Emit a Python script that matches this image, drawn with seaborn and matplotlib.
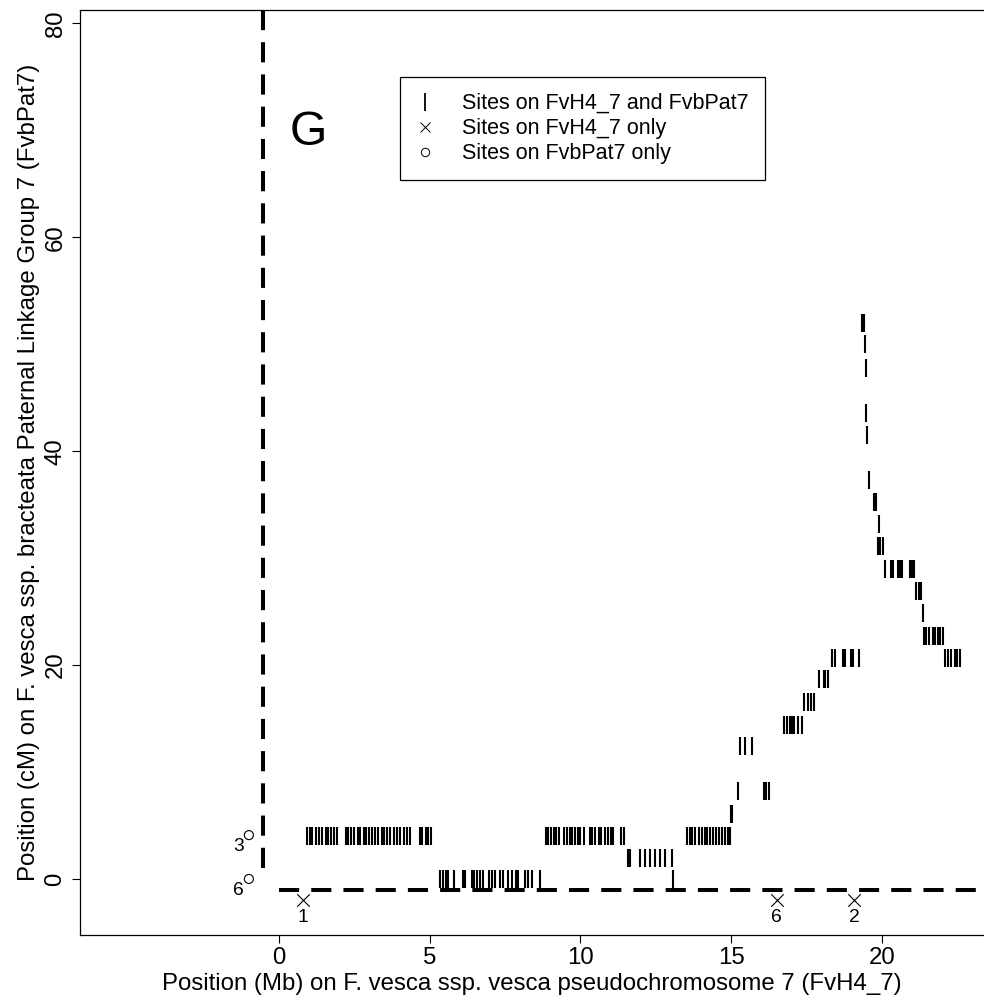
import numpy as np
import pandas as pd
import matplotlib
matplotlib.use("Agg")
import matplotlib.pyplot as plt
from matplotlib.lines import Line2D
import seaborn as sns

# ---------------- data ----------------
# Shared sites (on FvH4_7 and FvbPat7): one cM row per group with its Mb positions
row_cm = [4.0, 0.0, 4.0, 2.0, 0.0, 4.0, 6.1, 8.2, 12.4, 14.4, 16.5, 18.7,
          20.7, 22.7, 24.9, 26.9, 29.0, 31.15, 33.2, 35.2, 37.3, 41.5, 43.6,
          47.8, 50.0, 52.0]
row_mb = [
    [0.92, 1.02, 1.11, 1.22, 1.33, 1.44, 1.55, 1.64, 1.73, 1.81, 1.92,
     2.21, 2.30, 2.39, 2.50, 2.61, 2.70, 2.81, 2.90, 2.99, 3.10, 3.19, 3.30,
     3.41, 3.49, 3.58, 3.69, 3.81, 3.92, 4.03, 4.14, 4.25, 4.34,
     4.67, 4.76, 4.87, 4.95, 5.04],
    [5.34, 5.43, 5.54, 5.62, 5.81, 6.12, 6.18, 6.39, 6.48, 6.56, 6.67, 6.76,
     6.98, 7.07, 7.17, 7.33, 7.44, 7.61, 7.72, 7.86, 7.94, 8.16, 8.27, 8.39,
     8.66],
    [8.85, 8.94, 9.03, 9.12, 9.20, 9.29, 9.47, 9.56, 9.65, 9.73, 9.82, 9.91,
     10.00, 10.13, 10.32, 10.40, 10.49, 10.60, 10.69, 10.82, 10.91, 11.00,
     11.08, 11.35, 11.46],
    [11.57, 11.63, 11.98, 12.14, 12.31, 12.47, 12.64, 12.80, 13.03],
    [13.06],
    [13.53, 13.62, 13.70, 13.80, 13.95, 14.04, 14.12, 14.21, 14.30, 14.41,
     14.50, 14.61, 14.70, 14.81, 14.91, 14.97],
    [14.98, 15.04],
    [15.22, 16.09, 16.17, 16.27],
    [15.30, 15.46, 15.68],
    [16.77, 16.86, 16.94, 17.02, 17.10, 17.22, 17.35],
    [17.43, 17.55, 17.66, 17.75],
    [17.93, 18.07, 18.13, 18.21],
    [18.36, 18.43, 18.71, 18.79, 18.97, 19.05, 19.23,
     22.11, 22.20, 22.29, 22.42, 22.51, 22.60],
    [21.40, 21.47, 21.55, 21.70, 21.78, 21.85, 21.94, 22.02],
    [21.35],
    [21.15, 21.22, 21.30],
    [20.10, 20.30, 20.38, 20.55, 20.60, 20.68, 20.93, 20.99, 21.07],
    [19.88, 19.95, 20.04],
    [19.90],
    [19.74, 19.82],
    [19.56],
    [19.52],
    [19.49],
    [19.49],
    [19.45],
    [19.35, 19.42],
]

# Sites on FvH4_7 only (Mb position, number of sites)
h4_only_mb = [0.79, 16.51, 19.09]
h4_only_count = [1, 6, 2]
h4_only_row_cm = -2.0

# Sites on FvbPat7 only (cM position, number of sites)
pat_only_cm = [4.1, 0.0]
pat_only_count = [3, 6]
pat_only_col_mb = -1.0

# Chromosome / linkage-group boundaries
boundary_mb = -0.53
boundary_cm = -1.0

x_ticks = [0, 5, 10, 15, 20]
y_ticks = [0, 20, 40, 60, 80]
x_lim = (-6.62, 23.39)
y_lim = (-5.24, 81.25)

panel_label = "G"
legend_labels = ["Sites on FvH4_7 and FvbPat7",
                 "Sites on FvH4_7 only",
                 "Sites on FvbPat7 only"]

# ---------------- build tables ----------------
shared = pd.DataFrame({
    "mb": [m for mbs in row_mb for m in mbs],
    "cm": [c for c, mbs in zip(row_cm, row_mb) for _ in mbs],
})
h4_only = pd.DataFrame({"mb": h4_only_mb, "cm": [h4_only_row_cm] * len(h4_only_mb),
                        "n": h4_only_count})
pat_only = pd.DataFrame({"mb": [pat_only_col_mb] * len(pat_only_cm), "cm": pat_only_cm,
                         "n": pat_only_count})

# ---------------- plot ----------------
sns.set_style("ticks")
plt.rcParams["font.family"] = ["Liberation Sans", "DejaVu Sans"]
plt.rcParams["axes.linewidth"] = 0.9
for k in ["text.color", "axes.labelcolor", "xtick.color", "ytick.color",
          "axes.edgecolor"]:
    plt.rcParams[k] = "black"

BASE = 17.3
W, H = 984, 1001
fig = plt.figure(figsize=(W / 100, H / 100), dpi=100)
ax = fig.add_axes([79.5 / W, 66 / H, (W - 79.5) / W, (991 - 66) / H])
ax.set_xlim(*x_lim)
ax.set_ylim(*y_lim)

# boundary dashed lines (vertical drawn from the top down so dashes start at the top)
ax.plot([boundary_mb, boundary_mb], [y_lim[1], 0], color="black", lw=2.9,
        dashes=(5, 3), zorder=1, solid_capstyle="butt")
xmin_frac = (0 - x_lim[0]) / (x_lim[1] - x_lim[0])
ax.axhline(boundary_cm, xmin=xmin_frac, xmax=1, color="black", lw=2.9,
           dashes=(5, 3), zorder=1)
ax.set_xlim(*x_lim)
ax.set_ylim(*y_lim)

sns.scatterplot(data=shared, x="mb", y="cm", marker="|", s=13 ** 2,
                color="black", linewidth=1.5, ax=ax, legend=False, zorder=3)
sns.scatterplot(data=h4_only, x="mb", y="cm", marker="x", s=9 ** 2,
                color="black", linewidth=0.8, ax=ax, legend=False, zorder=3)
sns.scatterplot(data=pat_only, x="mb", y="cm", marker="o", s=6.5 ** 2,
                facecolor="none", edgecolor="black", linewidth=0.8, ax=ax,
                legend=False, zorder=3)

for _, r in h4_only.iterrows():
    ax.annotate(str(int(r["n"])), (r["mb"], r["cm"]), xytext=(0, -12.5),
                textcoords="offset points", ha="center", va="center",
                fontsize=BASE * 0.8)
for _, r in pat_only.iterrows():
    ax.annotate(str(int(r["n"])), (r["mb"], r["cm"]), xytext=(-7.5, -8.2),
                textcoords="offset points", ha="center", va="center",
                fontsize=BASE * 0.8)

ax.text(0.96, 69.75, panel_label, fontsize=BASE * 2, ha="center", va="center")

handles = [
    Line2D([], [], ls="none", marker="|", color="black", ms=12.5, mew=1.3),
    Line2D([], [], ls="none", marker="x", color="black", ms=7.5, mew=0.7),
    Line2D([], [], ls="none", marker="o", mfc="none", mec="black", ms=6, mew=0.7),
]
leg = ax.legend(handles, legend_labels, loc="upper left",
                bbox_to_anchor=(400 / W, 1 - 77 / H), bbox_transform=fig.transFigure,
                frameon=True, fancybox=False, edgecolor="black", framealpha=1,
                fontsize=15.5, borderpad=0.75, handlelength=0.8, handletextpad=1.35,
                labelspacing=0.19, borderaxespad=0)
leg.get_frame().set_linewidth(0.9)

ax.set_xticks(x_ticks)
ax.set_yticks(y_ticks)
ax.tick_params(axis="both", direction="out", length=5.8, width=0.8,
               labelsize=BASE, color="black", labelcolor="black")
ax.tick_params(axis="x", pad=2.5)
ax.tick_params(axis="y", pad=3.5)
for lab in ax.get_yticklabels():
    lab.set_rotation(90)
    lab.set_va("center")

ax.set_xlabel("Position (Mb) on F. vesca ssp. vesca pseudochromosome 7 (FvH4_7)",
              fontsize=BASE, labelpad=3)
ax.set_ylabel("Position (cM) on F. vesca ssp. bracteata Paternal Linkage Group 7 (FvbPat7)",
              fontsize=BASE, labelpad=3)
for sp in ax.spines.values():
    sp.set_color("black")
ax.spines["right"].set_visible(False)

fig.savefig("out.png", dpi=100, facecolor="white")
